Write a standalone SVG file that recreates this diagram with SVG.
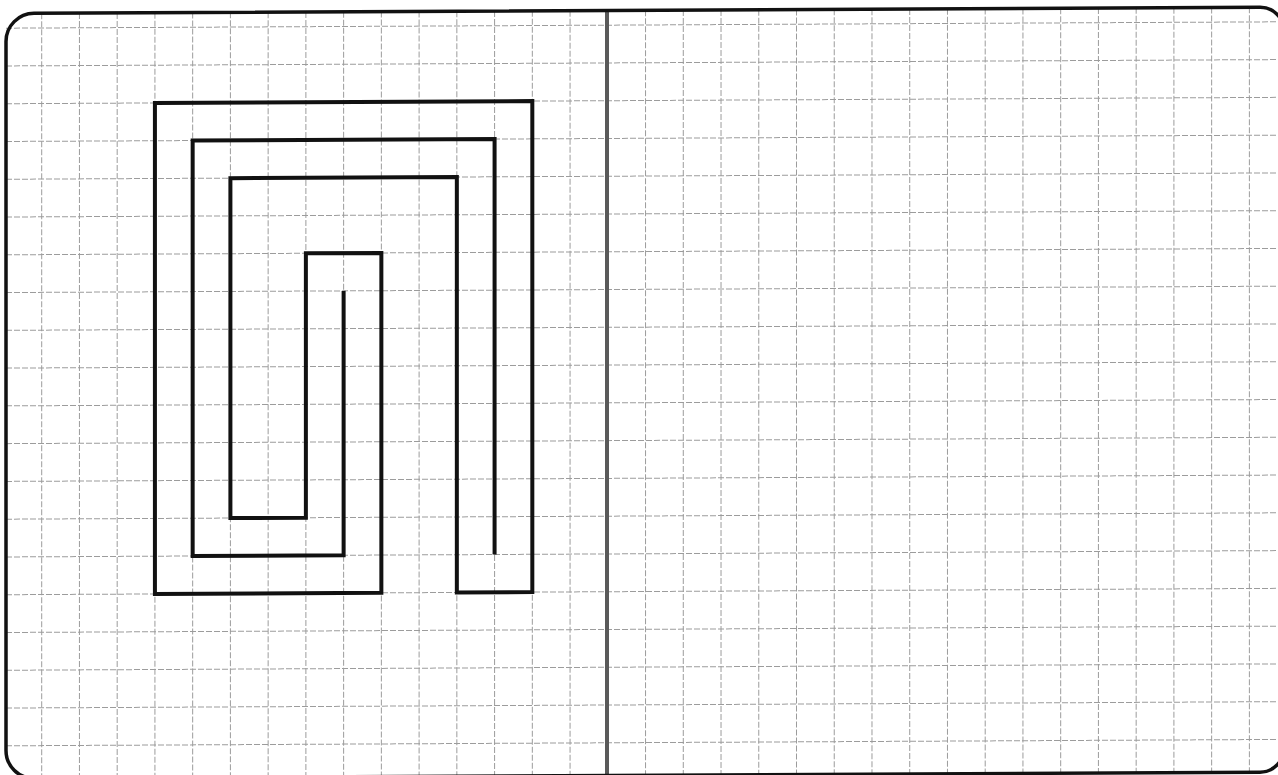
<svg xmlns="http://www.w3.org/2000/svg" width="1278" height="775" viewBox="0 0 1278 775">
  <style>
    .grid { fill: none; stroke: #9c9c9c; stroke-width: 1; stroke-dasharray: 6 2; }
    .frame { fill: none; stroke: #111; stroke-width: 3.5; }
    .divider { stroke: #5a5a5a; stroke-width: 4; }
    .maze { fill: none; stroke: #111; stroke-width: 4; stroke-linejoin: miter; stroke-linecap: square; }
  </style>
  <rect x="0" y="0" width="1278" height="775" fill="#ffffff"/>
  <g id="sheet" transform="translate(0,1.5) matrix(1,-0.005,0,1,0,0)">
    <g id="grid" class="grid">
      <path d="M41.7,12V777M79.44,12V777M117.18,12V777M154.92,12V777M192.66,12V777M230.4,12V777M268.14,12V777M305.88,12V777M343.62,12V777M381.36,12V777M419.1,12V777M456.84,12V777M494.58,12V777M532.32,12V777M570.06,12V777M645.54,12V777M683.28,12V777M721.02,12V777M758.76,12V777M796.5,12V777M834.24,12V777M871.98,12V777M909.72,12V777M947.46,12V777M985.2,12V777M1022.94,12V777M1060.68,12V777M1098.42,12V777M1136.16,12V777M1173.9,12V777M1211.64,12V777M1249.38,12V777"/>
      <path d="M6,26.7H1284M6,64.47H1284M6,102.24H1284M6,140.01H1284M6,177.78H1284M6,215.55H1284M6,253.32H1284M6,291.09H1284M6,328.86H1284M6,366.63H1284M6,404.4H1284M6,442.17H1284M6,479.94H1284M6,517.71H1284M6,555.48H1284M6,593.25H1284M6,631.02H1284M6,668.79H1284M6,706.56H1284M6,744.33H1284"/>
    </g>
    <g id="divider">
      <line class="divider" x1="607" y1="12" x2="607" y2="777"/>
    </g>
    <g id="frame">
      <path class="frame" d="M6,40 A28,28 0 0 1 34,12 L1260,12 A24,24 0 0 1 1284,36 L1284,753 A24,24 0 0 1 1260,777 L34,777 A28,28 0 0 1 6,749 Z"/>
    </g>
    <g id="maze">
      <polygon id="outer-loop" class="maze" points="381.36,253.32 381.36,593.25 154.92,593.25 154.92,102.24 532.32,102.24 532.32,593.25 456.84,593.25 456.84,177.78 230.4,177.78 230.4,517.71 305.88,517.71 305.88,253.32"/>
      <polyline id="inner-line" class="maze" style="stroke-linecap:butt" points="343.62,291.09 343.62,555.48 192.66,555.48 192.66,140.01 494.58,140.01 494.58,555.48"/>
    </g>
  </g>
</svg>
